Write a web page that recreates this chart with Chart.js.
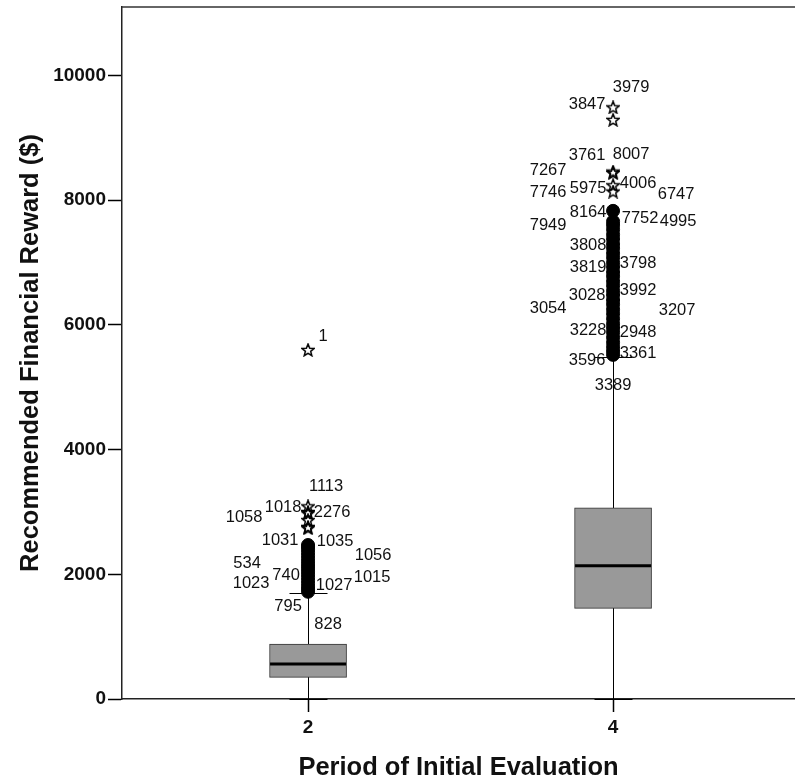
<!DOCTYPE html>
<html>
<head>
<meta charset="utf-8">
<script src="https://cdn.jsdelivr.net/npm/chart.js@4/dist/chart.umd.min.js"></script>
<style>
  html, body { margin: 0; padding: 0; background: #fff; overflow: hidden; }
  #wrap { width: 795px; height: 784px; position: relative; }
  #chart { display: block; }
</style>
</head>
<body>
<div id="wrap"><canvas id="chart"></canvas></div>
<script>
// ---- data ----
const categories = [2, 4];
const yTicks = [0, 2000, 4000, 6000, 8000, 10000];

const boxQ1 = [348, 1454];
const boxMedian = [561, 2138];
const boxQ3 = [882, 3068];
const whiskerLow = [0, 0];
const whiskerHigh = [1695, 5490];

// outliers (circles), dense columns
const outliers2 = [1720, 1760, 1800, 1850, 1900, 1950, 2000, 2050, 2100, 2150, 2200, 2250, 2300, 2350, 2400, 2440, 2470];
const outliers4 = [5520, 5580, 5650, 5720, 5800, 5880, 5950, 6020, 6100, 6180, 6250, 6330, 6400, 6480, 6550, 6630,
  6700, 6780, 6850, 6930, 7000, 7080, 7150, 7230, 7300, 7380, 7450, 7530, 7600, 7660, 7830];

// extremes (stars)
const extremes2 = [5600, 3090, 3000, 2980, 2870, 2760, 2740];
const extremes4 = [9490, 9290, 8460, 8440, 8240, 8140];

// case number labels and the value they sit at
const caseLabels2 = ['1', '1113', '1018', '2276', '1058', '1031', '1035', '1056', '534', '740', '1023', '1027', '1015', '795', '828'];
const caseLabelValues2 = [5811, 3405, 3068, 2988, 2908, 2539, 2523, 2310, 2176, 1989, 1856, 1828, 1946, 1480, 1198];
const caseLabels4 = ['3979', '3847', '3761', '8007', '7267', '7746', '5975', '4006', '6747', '8164', '7752', '4995', '7949',
  '3808', '3819', '3798', '3028', '3992', '3054', '3207', '3228', '2948', '3596', '3361', '3389'];
const caseLabelValues4 = [9804, 9538, 8714, 8741, 8473, 8120, 8191, 8271, 8095, 7806, 7710, 7655, 7591,
  7270, 6917, 6988, 6479, 6549, 6266, 6239, 5918, 5881, 5437, 5545, 5036];

// horizontal offsets of those labels (px from the box centre)
const labelDx2 = [15, 18, -25, 24, -64, -28, 27, 65, -61, -22, -57, 26, 64, -20, 20];
const labelDx4 = [18, -26, -26, 18, -65, -65, -25, 25, 63, -25, 27, 65, -65, -25, -25, 25, -26, 25, -65, 64, -25, 25, -26, 25, 0];

const FONT = "'Liberation Sans', Arial, sans-serif";

function makeStar(size) {
  const c = document.createElement('canvas');
  c.width = size; c.height = size;
  const g = c.getContext('2d');
  const cx = size / 2, cy = size / 2 + 0.5;
  g.beginPath();
  for (let i = 0; i < 10; i++) {
    const r = i % 2 ? size * 0.2 : size * 0.46;
    const a = -Math.PI / 2 + i * Math.PI / 5;
    const px = cx + r * Math.cos(a), py = cy + r * Math.sin(a);
    if (i === 0) g.moveTo(px, py); else g.lineTo(px, py);
  }
  g.closePath();
  g.strokeStyle = '#000';
  g.lineWidth = 1.5;
  g.stroke();
  return c;
}
const starImg = makeStar(14);

// whiskers + caps (under boxes), medians, labels, top frame
const boxPlugin = {
  id: 'boxParts',
  beforeDatasetsDraw(chart) {
    const {ctx, scales: {x, y}, chartArea} = chart;
    ctx.save();
    ctx.strokeStyle = '#000';
    ctx.lineWidth = 1;
    categories.forEach((c, i) => {
      const cx = Math.round(x.getPixelForValue(c)) + 0.5;
      ctx.beginPath();
      ctx.moveTo(cx, y.getPixelForValue(whiskerLow[i]));
      ctx.lineTo(cx, y.getPixelForValue(whiskerHigh[i]));
      ctx.stroke();
      [whiskerLow[i], whiskerHigh[i]].forEach(v => {
        const py = Math.round(y.getPixelForValue(v)) + 0.5;
        ctx.beginPath();
        ctx.moveTo(cx - 19, py);
        ctx.lineTo(cx + 19, py);
        ctx.stroke();
      });
    });
    // top frame line
    ctx.strokeStyle = '#333';
    ctx.lineWidth = 1.5;
    ctx.beginPath();
    ctx.moveTo(chartArea.left, chartArea.top);
    ctx.lineTo(chartArea.right, chartArea.top);
    ctx.stroke();
    ctx.restore();
  },
  afterDatasetsDraw(chart) {
    const {ctx, scales: {x, y}} = chart;
    ctx.save();
    ctx.strokeStyle = '#000';
    ctx.lineWidth = 3;
    categories.forEach((c, i) => {
      const cx = x.getPixelForValue(c);
      const py = y.getPixelForValue(boxMedian[i]);
      ctx.beginPath();
      ctx.moveTo(cx - 38, py);
      ctx.lineTo(cx + 38, py);
      ctx.stroke();
    });
    ctx.fillStyle = '#111';
    ctx.font = '16.5px ' + FONT;
    ctx.textAlign = 'center';
    ctx.textBaseline = 'middle';
    const sets = [[caseLabels2, caseLabelValues2, labelDx2, categories[0]],
                  [caseLabels4, caseLabelValues4, labelDx4, categories[1]]];
    sets.forEach(([txt, vals, dx, c]) => {
      const cx = x.getPixelForValue(c);
      txt.forEach((t, k) => ctx.fillText(t, cx + dx[k], y.getPixelForValue(vals[k])));
    });
    ctx.restore();
  }
};

const chart = new Chart(document.getElementById('chart'), {
  type: 'scatter',
  data: {
    datasets: [
      {
        type: 'bar',
        data: categories.map((c, i) => ({x: c, y: [boxQ1[i], boxQ3[i]]})),
        backgroundColor: '#999999',
        borderColor: '#333333',
        borderWidth: 1,
        borderSkipped: false,
        barThickness: 77,
        order: 3
      },
      {
        data: outliers2.map(v => ({x: categories[0], y: v})).concat(outliers4.map(v => ({x: categories[1], y: v}))),
        pointStyle: 'circle',
        pointRadius: 6.5,
        backgroundColor: '#000',
        borderColor: '#000',
        borderWidth: 1,
        order: 2
      },
      {
        data: extremes2.map(v => ({x: categories[0], y: v})).concat(extremes4.map(v => ({x: categories[1], y: v}))),
        pointStyle: starImg,
        order: 1
      }
    ]
  },
  plugins: [boxPlugin],
  options: {
    responsive: true,
    maintainAspectRatio: false,
    animation: false,
    layout: {autoPadding: false, padding: {top: 7, right: 0, left: 0, bottom: 0}},
    plugins: {legend: {display: false}, tooltip: {enabled: false}},
    scales: {
      x: {
        type: 'linear',
        min: 0.78,
        max: 5.193,
        offset: false,
        afterBuildTicks: s => { s.ticks = categories.map(v => ({value: v})); },
        afterFit: s => { s.height = 85; s.paddingLeft = 0; s.paddingRight = 0; },
        ticks: {
          color: '#111',
          padding: 4,
          font: {family: FONT, size: 19, weight: 'bold'},
          callback: v => String(v)
        },
        grid: {drawOnChartArea: false, offset: false, tickLength: 13, color: '#000', tickWidth: 1.5},
        border: {display: true, color: '#222', width: 1.5},
        title: {
          display: true,
          text: 'Period of Initial Evaluation',
          color: '#111',
          padding: {top: 0, bottom: 1},
          font: {family: FONT, size: 25.5, weight: 'bold'}
        }
      },
      y: {
        min: 0,
        max: 11100,
        afterBuildTicks: s => { s.ticks = yTicks.map(v => ({value: v})); },
        afterFit: s => { s.width = 122; s.paddingTop = 0; s.paddingBottom = 0; },
        ticks: {
          color: '#111',
          padding: 2,
          font: {family: FONT, size: 19, weight: 'bold'},
          callback: v => String(v)
        },
        grid: {drawOnChartArea: false, tickLength: 14, color: '#000', tickWidth: 1.5},
        border: {display: true, color: '#222', width: 1.5},
        title: {
          display: true,
          text: 'Recommended Financial Reward ($)',
          color: '#111',
          padding: {top: 16, bottom: 0},
          font: {family: FONT, size: 25.5, weight: 'bold'}
        }
      }
    }
  }
});
</script>
</body>
</html>
